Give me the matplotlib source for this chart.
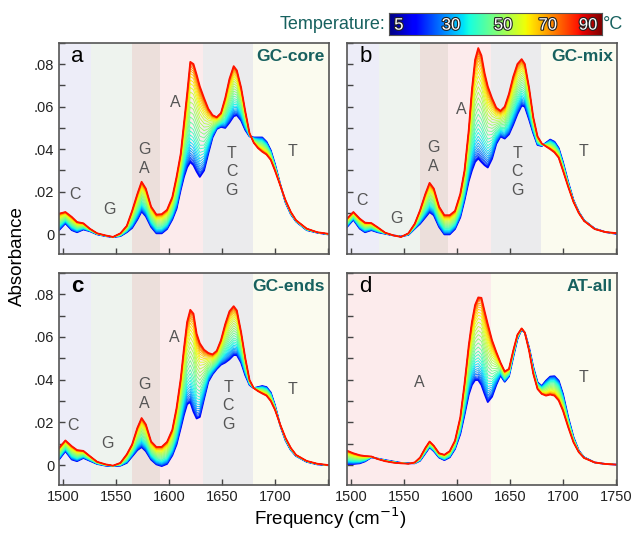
import numpy as np
import matplotlib
matplotlib.use("Agg")
import matplotlib.pyplot as plt
from matplotlib.ticker import MultipleLocator, FuncFormatter
import matplotlib.patheffects as pe

plt.rcParams['font.family'] = ['Liberation Sans', 'DejaVu Sans']

# frequency grid (cm-1) shared by all spectra
freq = [1496, 1502, 1508, 1513, 1519, 1525, 1532, 1540, 1547, 1554, 1560, 1565,
        1570, 1574, 1578, 1583, 1588, 1593, 1598, 1603, 1607, 1611, 1614, 1617,
        1620, 1623, 1626, 1629, 1633, 1637, 1641, 1645, 1649, 1653, 1657, 1661,
        1664, 1668, 1672, 1676, 1680, 1684, 1688, 1692, 1696, 1700, 1705, 1710,
        1715, 1720, 1730, 1740, 1750]

# absorbance x 1000, lowest (5 C) and highest (90 C) temperature spectra
a_low = [2.0, 5.2, 2.0, 1.0, 2.3, 1.5, 0.0, -0.8, -1.3, -0.8, 1.0, 3.0,
         7.0, 10.8, 8.5, 3.5, 0.5, 0.5, 2.5, 7.0, 12.0, 21.0, 27.0, 31.5,
         34.0, 32.5, 29.5, 27.0, 30.0, 38.0, 45.5, 49.5, 50.5, 50.0, 52.5, 55.5,
         56.0, 53.5, 49.0, 46.0, 45.5, 45.5, 45.5, 43.5, 39.5, 33.0, 23.5, 15.0,
         9.5, 6.0, 2.0, 0.8, 0.0]
a_high = [9.7, 10.5, 8.2, 5.8, 5.2, 2.7, 0.5, -0.5, -1.2, 0.5, 4.0, 11.0,
          19.0, 24.7, 21.5, 13.0, 9.3, 9.5, 11.5, 17.5, 27.0, 38.0, 52.0, 66.0,
          81.0, 80.0, 75.0, 69.5, 64.0, 59.0, 56.0, 55.0, 57.0, 64.0, 73.0, 79.0,
          77.0, 69.0, 57.7, 47.5, 43.0, 40.5, 38.8, 37.5, 35.0, 30.0, 23.0, 16.0,
          10.5, 6.6, 2.7, 1.0, 0.3]

b_low = [3.5, 6.9, 2.7, 1.0, 2.0, 1.0, 0.3, -0.5, -1.0, -0.2, 2.7, 5.0,
         8.0, 10.5, 9.0, 3.5, 0.0, 0.0, 2.5, 8.0, 16.0, 25.0, 30.0, 34.0,
         35.7, 34.0, 32.5, 31.4, 35.5, 42.5, 46.0, 45.0, 47.0, 51.5, 56.5, 60.5,
         60.0, 54.0, 47.5, 42.0, 41.5, 43.0, 44.5, 43.5, 40.5, 34.0, 24.5, 16.0,
         10.5, 6.6, 2.7, 1.1, 0.3]
b_high = [7.4, 10.5, 7.4, 5.5, 5.3, 3.3, 0.8, -0.5, -1.2, 0.5, 5.0, 11.3,
          19.0, 24.2, 21.5, 13.0, 9.0, 9.0, 11.0, 19.0, 30.0, 49.0, 68.0, 82.0,
          87.5, 84.0, 75.7, 69.5, 64.0, 59.5, 58.0, 60.0, 66.0, 74.0, 80.0, 82.3,
          80.0, 69.0, 55.0, 46.0, 42.7, 41.3, 40.0, 38.5, 36.0, 30.0, 22.3, 15.2,
          10.0, 6.3, 2.5, 1.1, 0.6]

c_low = [2.6, 6.5, 2.6, 1.8, 3.3, 2.0, 0.5, -0.3, -0.5, -0.3, 1.0, 4.0,
         7.0, 8.4, 6.5, 2.5, 0.3, -0.5, 0.5, 4.5, 9.6, 17.4, 23.5, 28.5,
         29.5, 25.0, 21.8, 22.5, 31.0, 39.0, 42.5, 45.0, 47.0, 48.0, 49.5, 51.5,
         51.5, 48.0, 42.0, 37.5, 36.0, 36.5, 37.0, 36.5, 34.0, 28.0, 18.5, 11.5,
         7.0, 4.2, 1.5, 0.3, -0.1]
c_high = [8.0, 11.5, 8.8, 7.0, 6.6, 4.2, 1.5, 0.3, -0.3, 1.0, 5.0, 9.6,
          17.4, 22.0, 19.0, 11.0, 8.4, 8.5, 10.8, 16.5, 26.7, 40.6, 54.6, 67.0,
          72.7, 70.9, 61.5, 57.0, 54.0, 52.5, 51.8, 53.5, 58.5, 66.0, 72.0, 74.4,
          72.4, 62.3, 50.0, 39.8, 36.0, 34.6, 33.5, 32.5, 30.0, 25.9, 18.9, 12.7,
          8.0, 4.7, 1.9, 0.6, 0.0]

d_low = [0.5, 0.5, 0.8, 1.7, 3.6, 3.0, 2.3, 1.6, 1.0, 0.8, 0.8, 2.0,
         5.5, 8.3, 6.5, 3.5, 2.3, 3.6, 7.5, 14.5, 23.5, 33.0, 37.5, 39.8,
         39.8, 37.5, 33.3, 29.5, 32.0, 37.5, 42.0, 39.0, 41.5, 50.5, 59.0, 63.5,
         62.0, 55.0, 45.8, 38.7, 37.0, 39.5, 41.4, 41.6, 39.5, 33.3, 22.3, 13.0,
         6.7, 3.6, 1.2, 0.5, 0.2]
d_high = [6.7, 5.5, 4.6, 4.2, 4.0, 2.8, 1.8, 1.1, 0.8, 0.6, 1.2, 3.5,
          8.0, 11.0, 9.0, 5.5, 4.8, 6.5, 11.4, 22.3, 38.0, 56.0, 67.0, 75.0,
          78.5, 78.3, 72.0, 66.0, 58.5, 53.0, 48.0, 43.8, 45.0, 53.5, 61.0, 64.0,
          62.0, 53.6, 42.7, 35.6, 33.3, 32.5, 33.0, 32.5, 30.2, 25.5, 17.7, 10.6,
          6.0, 3.3, 1.2, 0.5, 0.2]

# temperatures of the recorded spectra and melted fraction at each one
temps = [5, 7.5, 10, 12.5, 15, 17.5, 20, 22.5, 25, 27.5, 30, 32.5, 35, 37.5,
         40, 42.5, 45, 47.5, 50, 52.5, 55, 57.5, 60, 62.5, 65, 67.5, 70, 72.5,
         75, 77.5, 80, 82.5, 85, 87.5, 90]
melted = [0.0, 0.01, 0.02, 0.035, 0.05, 0.07, 0.09, 0.115, 0.14, 0.17, 0.20,
          0.235, 0.27, 0.31, 0.35, 0.40, 0.45, 0.50, 0.55, 0.60, 0.65, 0.70,
          0.745, 0.785, 0.82, 0.855, 0.885, 0.91, 0.93, 0.95, 0.965, 0.978,
          0.988, 0.995, 1.0]

# band regions: (start, end, colour)
bands_gc = [(1490, 1526, '#ededf8'), (1526, 1565, '#eef3ee'),
            (1565, 1591, '#ecdfdb'), (1591, 1632, '#fcebec'),
            (1632, 1679, '#ebebed'), (1679, 1760, '#fbfbef')]
bands_at = [(1490, 1632, '#fcebec'), (1632, 1760, '#fbfbef')]

# band labels: (text, freq, absorbance)
labels_a = [('C', 1511, 0.0189), ('G', 1544, 0.0118), ('G\nA', 1577, 0.0355),
            ('A', 1606, 0.062), ('T\nC\nG', 1659, 0.0294), ('T', 1717, 0.0388)]
labels_b = [('C', 1510, 0.016), ('G', 1543, 0.0074), ('G\nA', 1577.5, 0.0364),
            ('A', 1604, 0.0585), ('T\nC\nG', 1657, 0.0294), ('T', 1719, 0.0388)]
labels_c = [('C', 1509, 0.0184), ('G', 1542, 0.0099), ('G\nA', 1576.5, 0.0334),
            ('A', 1605, 0.0595), ('T\nC\nG', 1656, 0.0278), ('T', 1717, 0.0352)]
labels_d = [('A', 1564, 0.0388), ('T', 1719, 0.041)]

panels = [
    ('a', 'GC-core', a_low, a_high, bands_gc, labels_a),
    ('b', 'GC-mix', b_low, b_high, bands_gc, labels_b),
    ('c', 'GC-ends', c_low, c_high, bands_gc, labels_c),
    ('d', 'AT-all', d_low, d_high, bands_at, labels_d),
]

teal = '#17615f'
fig = plt.figure(figsize=(6.35, 5.34), dpi=100)
boxes = [[0.093, 0.524, 0.425, 0.396], [0.5465, 0.524, 0.425, 0.396],
         [0.093, 0.092, 0.425, 0.397], [0.5465, 0.092, 0.425, 0.397]]

cmap = plt.get_cmap('jet')
f = np.array(freq)

for i, (letter, name, lo, hi, bands, labels) in enumerate(panels):
    ax = fig.add_axes(boxes[i])
    lo = np.array(lo) / 1000.0
    hi = np.array(hi) / 1000.0
    for (x0, x1, col) in bands:
        ax.axvspan(x0, x1, color=col, lw=0, zorder=0)
    for k, (t, m) in enumerate(zip(temps, melted)):
        col = cmap(0.12 + 0.77 * (t - 5) / 85.0)
        lw = 1.3 if k in (0, len(temps) - 1) else 0.6
        ax.plot(f, lo + m * (hi - lo), color=col, lw=lw, zorder=2)
    for (txt, x, y) in labels:
        ax.text(x, y, txt, ha='center', va='center', fontsize=11.5,
                color='#555555', linespacing=1.3, zorder=3)
    ax.text(0.045, 0.935, letter, transform=ax.transAxes, fontsize=16,
            ha='left', va='center', color='black',
            fontweight='bold' if letter == 'c' else 'normal')
    ax.text(0.985, 0.935, name, transform=ax.transAxes, fontsize=12.5,
            ha='right', va='center', color=teal, fontweight='bold')
    ax.set_xlim(1496, 1751)
    ax.set_ylim(-0.0093, 0.09)
    ax.xaxis.set_major_locator(MultipleLocator(50))
    ax.yaxis.set_major_locator(MultipleLocator(0.02))
    ax.yaxis.set_minor_locator(MultipleLocator(0.01))
    ax.tick_params(which='both', direction='in', length=4, width=1,
                   color='#444444', labelsize=10.5, labelcolor='#222222',
                   top=False, right=False)
    for sp in ax.spines.values():
        sp.set_color('#555555')
        sp.set_linewidth(1.2)
    if i % 2 == 0:
        ax.yaxis.set_major_formatter(FuncFormatter(
            lambda v, p: '0' if abs(v) < 1e-9 else ('%.2f' % v)[1:]))
    else:
        ax.set_yticklabels([])
    if i < 2:
        ax.set_xticklabels([])
    else:
        if i == 2:
            ax.xaxis.set_major_formatter(FuncFormatter(
                lambda v, p: '' if v > 1720 else '%d' % v))

fig.text(0.52, 0.03, 'Frequency (cm$^{-1}$)', ha='center', va='center',
         fontsize=13.5)
fig.text(0.028, 0.52, 'Absorbance', ha='center', va='center',
         rotation=90, fontsize=13.5)

# temperature colour bar
cax = fig.add_axes([0.613, 0.934, 0.335, 0.042])
cax.imshow(np.linspace(0, 1, 256)[None, :], aspect='auto', cmap='jet',
           extent=[0, 1, 0, 1])
cax.set_xticks([])
cax.set_yticks([])
for sp in cax.spines.values():
    sp.set_color('#555555')
    sp.set_linewidth(0.8)
cb_ticks = [('5', 0.045), ('30', 0.29), ('50', 0.535), ('70', 0.745), ('90', 0.935)]
for txt, x in cb_ticks:
    cax.text(x, 0.45, txt, transform=cax.transAxes, ha='center', va='center',
             fontsize=12, color='white',
             path_effects=[pe.withStroke(linewidth=1.6, foreground='#222222')])
fig.text(0.607, 0.955, 'Temperature:', ha='right', va='center',
         fontsize=13, color=teal)
fig.text(0.95, 0.955, '\u00b0C', ha='left', va='center', fontsize=13,
         color=teal)

fig.savefig('out.png', dpi=100)
